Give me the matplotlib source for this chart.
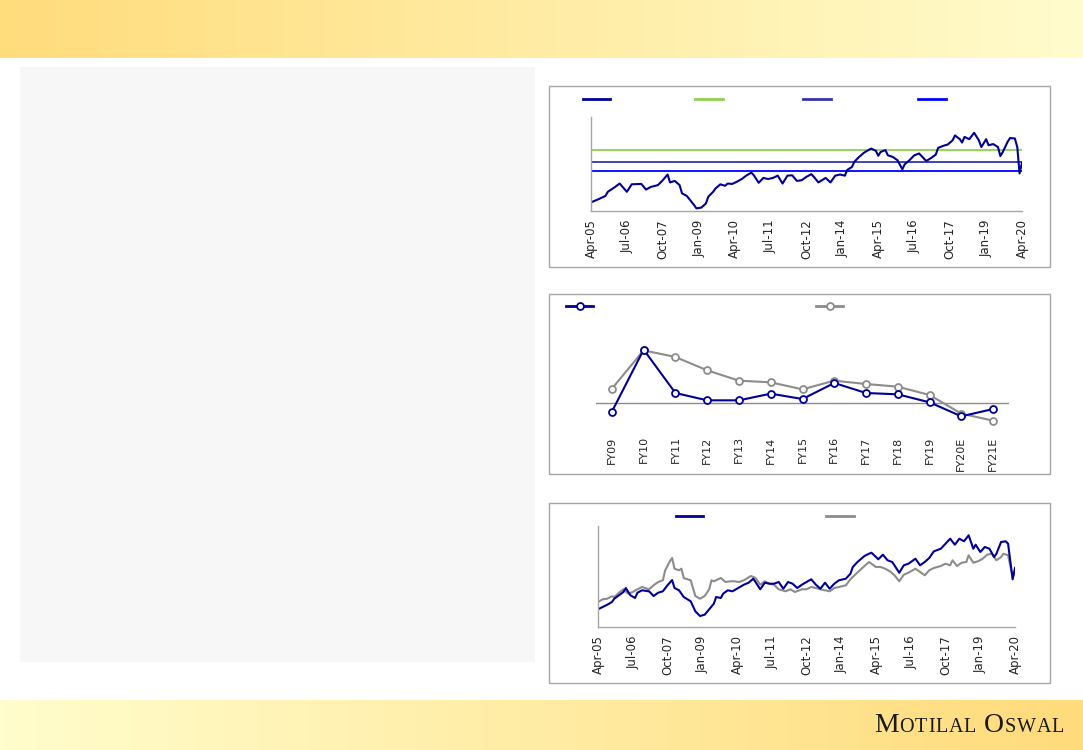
import numpy as np
import pandas as pd
import matplotlib
matplotlib.use("Agg")
import matplotlib.pyplot as plt
from matplotlib.lines import Line2D
from matplotlib.patches import Rectangle
from matplotlib.colors import LinearSegmentedColormap

# ---- data -----------------------------------------------------------------
START = pd.Timestamp("2005-04-01")

# chart 1: P/E band (months since Apr-05, value)
pe_month = [0, 3, 6, 7, 10, 12, 15, 17, 21, 23, 25, 28, 30, 32, 33, 35, 37, 38, 40, 43,
            44, 46, 48, 49, 51, 52, 54, 56, 57, 59, 61, 63, 65, 67, 68, 70, 72, 74, 76, 78,
            80, 82, 84, 86, 88, 90, 92, 93, 95, 98, 100, 102, 104, 106, 107, 109, 110, 112, 114, 115,
            117, 119, 120, 121, 123, 124, 126, 128, 130, 131, 133, 135, 137, 140, 142, 144, 145, 147, 149, 151,
            152, 154, 155, 156, 158, 160, 162, 163, 165, 166, 168, 170, 171, 172, 174, 175, 177, 178, 179, 180]
pe_value = [7.3, 8.1, 9.0, 10.1, 11.4, 12.3, 10.1, 12.1, 12.2, 10.7,
            11.4, 11.9, 13.2, 14.7, 12.6, 13.0, 11.9, 9.7, 9.0, 6.6,
            5.7, 5.9, 7.0, 8.8, 10.1, 11.0, 12.1, 11.7, 12.3, 12.2,
            12.8, 13.5, 14.5, 15.2, 14.5, 12.5, 13.8, 13.5, 13.8, 14.4,
            12.3, 14.4, 14.5, 13.0, 13.2, 14.1, 14.8, 14.1, 12.6, 13.8,
            12.6, 14.4, 14.7, 14.4, 15.9, 16.7, 18.1, 19.4, 20.5, 20.9,
            21.6, 21.0, 19.7, 20.7, 21.2, 19.8, 19.4, 18.5, 16.1, 17.4,
            18.5, 19.8, 20.3, 18.3, 19.1, 20.0, 21.8, 22.3, 22.7, 23.8,
            25.1, 24.1, 23.2, 24.7, 24.1, 25.8, 23.8, 22.0, 24.1, 22.5,
            22.8, 22.0, 19.6, 20.7, 23.4, 24.4, 24.3, 22.0, 15.0, 17.9]
pe_upper = 21.3
pe_avg = 18.0
pe_lower = 15.7

# chart 2: yearly growth, two series
fy_labels = ["FY09", "FY10", "FY11", "FY12", "FY13", "FY14", "FY15", "FY16",
             "FY17", "FY18", "FY19", "FY20E", "FY21E"]
growth_a = [-6.5, 40.0, 7.5, 2.0, 2.0, 7.0, 3.0, 15.0, 7.5, 6.5, 0.5, -10.0, -4.5]
growth_b = [10.75, 39.5, 34.5, 24.5, 16.75, 15.5, 10.25, 16.75, 14.25, 12.25, 6.0, -8.0, -13.25]

# chart 3: two index-like series
s1_month = [0, 2, 4, 6, 7, 9, 11, 12, 14, 16, 17, 19, 22, 24, 26, 28, 30, 32, 33, 35,
            37, 40, 42, 44, 46, 48, 50, 51, 53, 54, 56, 58, 60, 63, 65, 67, 68, 70, 72, 74,
            76, 78, 80, 82, 84, 86, 88, 90, 92, 94, 96, 98, 100, 102, 104, 107, 109, 110, 112, 115,
            117, 118, 120, 121, 123, 125, 127, 130, 132, 134, 137, 139, 141, 143, 145, 148, 150, 152, 154, 156,
            158, 160, 162, 163, 165, 167, 169, 171, 172, 174, 176, 177, 179, 180]
s1_value = [17.7, 20, 22.3, 25, 28.3, 31.7, 35, 39, 31.7, 29,
            34.3, 36.7, 35.7, 31, 34.3, 35.7, 41.7, 47, 39, 36.7,
            30, 25.7, 15.7, 11, 12.3, 17.7, 23.3, 30, 29, 33.3,
            36.7, 35.7, 38.3, 42.3, 44.3, 48.3, 45, 37.7, 44.3, 43.3,
            43.3, 45, 38.3, 45, 43.3, 39, 42.3, 45, 47.7, 42.3,
            38.3, 44.3, 38.3, 43.3, 46.7, 48.3, 53.3, 60, 65, 71,
            73.3, 74.3, 70, 67.7, 72.3, 66.7, 65, 54.3, 61.7, 63.3,
            68.3, 61.7, 65, 69, 75.7, 78.3, 83.3, 88.3, 82.3, 88.3,
            85.7, 91.7, 78.3, 82.3, 75, 80, 78.3, 70, 73.3, 85,
            85.7, 83.3, 47.7, 59]
s2_month = [0, 2, 4, 6, 7, 9, 11, 13, 15, 17, 19, 22, 24, 26, 28, 29, 31, 32, 33, 35,
            36, 37, 40, 42, 44, 46, 48, 49, 50, 53, 55, 57, 59, 61, 63, 66, 68, 70, 72, 74,
            76, 78, 81, 83, 85, 88, 90, 92, 94, 96, 100, 102, 104, 107, 109, 111, 113, 115, 117, 120,
            122, 124, 126, 128, 130, 132, 134, 137, 139, 141, 143, 145, 148, 150, 152, 153, 155, 157, 159, 160,
            162, 164, 166, 168, 170, 172, 174, 175, 177, 179, 180]
s2_value = [25, 27.7, 28.3, 30.7, 30, 34.3, 37.7, 33.3, 35, 37.7,
            40, 37.7, 41.7, 45, 46.7, 56.7, 65.7, 69, 58.3, 56.7,
            58.3, 49, 46.7, 31, 28.3, 31, 37.7, 46.7, 45.7, 49,
            45, 45.7, 45.7, 45, 46.7, 51, 49, 42.3, 45.7, 43.3,
            42.3, 37.7, 35.7, 37.7, 35, 37.7, 37.7, 40, 39, 37.7,
            35.7, 39, 40, 41.7, 47.7, 52.3, 56.7, 61, 65, 60,
            60, 58.3, 55.7, 51.7, 45.7, 52.3, 54.3, 58.3, 55, 51.7,
            56.7, 59, 61, 63.3, 61.7, 66.7, 61, 64.3, 65, 71.7,
            64.3, 65.7, 68.3, 72.3, 73.3, 66.7, 70, 73.3, 71.7, 50,
            55]

tick_dates = ["2005-04", "2006-07", "2007-10", "2009-01", "2010-04", "2011-07", "2012-10",
              "2014-01", "2015-04", "2016-07", "2017-10", "2019-01", "2020-04"]


def to_dates(months):
    return [START + pd.DateOffset(months=m) for m in months]


# ---- styling --------------------------------------------------------------
W, H = 1083, 750
NAVY = "#000099"
GREEN = "#92D050"
SLATE = "#3333B2"
BLUE = "#0000FF"
GREY = "#8C8C8C"
SPINE = "#A6A6A6"
TXT = "#262626"

fig = plt.figure(figsize=(W / 100, H / 100), dpi=100)
fig.patch.set_facecolor("white")


def px_axes(x0, y0, x1, y1, **kw):
    return fig.add_axes([x0 / W, 1 - y1 / H, (x1 - x0) / W, (y1 - y0) / H], **kw)


def gradient_band(y0, y1, c_left, c_right):
    ax = px_axes(0, y0, W, y1)
    cmap = LinearSegmentedColormap.from_list("g", [c_left, c_right])
    ax.imshow(np.linspace(0, 1, 256)[None, :], aspect="auto", cmap=cmap,
              extent=[0, 1, 0, 1])
    ax.axis("off")
    return ax


# header / footer bands
gradient_band(0, 58, "#FFDC7C", "#FFFCCC")
gradient_band(700, H, "#FFFDCC", "#FFDB7B")

# left grey panel (kept under the axes)
fig.add_artist(Rectangle((20 / W, 1 - 662 / H), 515 / W, 595 / H,
                         transform=fig.transFigure, fc="#F7F7F7", ec="none", zorder=-10))

# chart frames
for y0, y1 in [(86, 267), (294, 474), (503, 683)]:
    fig.add_artist(Rectangle((549 / W, 1 - y1 / H), 501 / W, (y1 - y0) / H,
                             transform=fig.transFigure, fc="white", ec=SPINE, lw=1.0,
                             zorder=-10))


def legend_line(x0, x1, y, color, marker=False):
    fig.add_artist(Line2D([x0 / W, x1 / W], [1 - y / H, 1 - y / H], color=color,
                          lw=2.0, transform=fig.transFigure))
    if marker:
        fig.add_artist(Line2D([(x0 + x1) / 2 / W], [1 - y / H], color=color, marker="o",
                              ms=5, mfc="white", mew=1.3, transform=fig.transFigure))


def date_axis(ax):
    ax.set_xlim(START, START + pd.DateOffset(months=180))
    ticks = [pd.Timestamp(t + "-01") for t in tick_dates]
    ax.set_xticks(ticks)
    ax.set_xticklabels([t.strftime("%b-%y") for t in ticks], rotation=90,
                       fontsize=8.5, color=TXT)
    ax.tick_params(axis="x", length=0, pad=6)
    ax.set_yticks([])
    for s in ["top", "right"]:
        ax.spines[s].set_visible(False)
    for s in ["left", "bottom"]:
        ax.spines[s].set_color(SPINE)
        ax.spines[s].set_linewidth(1.0)
    ax.patch.set_alpha(0)


# ---- chart 1 --------------------------------------------------------------
ax1 = px_axes(591, 117, 1022, 211)
ax1.axhline(pe_upper, color=GREEN, lw=1.3)
ax1.axhline(pe_avg, color=SLATE, lw=1.3)
ax1.axhline(pe_lower, color=BLUE, lw=1.3)
ax1.plot(to_dates(pe_month), pe_value, color=NAVY, lw=1.5)
ax1.set_ylim(5, 30)
date_axis(ax1)
legend_line(583, 610, 99, NAVY)
legend_line(695, 723, 99, GREEN)
legend_line(803, 831, 99, SLATE)
legend_line(918, 946, 99, BLUE)

# ---- chart 2 --------------------------------------------------------------
ax2 = px_axes(596, 316, 1009, 428)
x = np.arange(len(fy_labels))
ax2.axhline(0, color=GREY, lw=1.0)
ax2.plot(x, growth_b, color=GREY, lw=1.5, marker="o", ms=5, mfc="white", mew=1.3)
ax2.plot(x, growth_a, color=NAVY, lw=1.5, marker="o", ms=5, mfc="white", mew=1.3)
ax2.set_xlim(-0.5, len(fy_labels) - 0.5)
ax2.set_ylim(-18.75, 65.25)
ax2.set_xticks(x)
ax2.set_xticklabels(fy_labels, rotation=90, fontsize=8, color=TXT)
ax2.tick_params(axis="x", length=0, pad=6)
ax2.set_yticks([])
for s in ax2.spines.values():
    s.set_visible(False)
ax2.patch.set_alpha(0)
legend_line(566, 593, 306, NAVY, marker=True)
legend_line(816, 843, 306, GREY, marker=True)

# ---- chart 3 --------------------------------------------------------------
ax3 = px_axes(598, 526, 1015, 627)
ax3.plot(to_dates(s2_month), s2_value, color=GREY, lw=1.5)
ax3.plot(to_dates(s1_month), s1_value, color=NAVY, lw=1.5)
ax3.set_ylim(0, 101)
date_axis(ax3)
legend_line(676, 703, 516, NAVY)
legend_line(826, 854, 516, GREY)

# ---- brand mark (small caps, letter by letter with a little tracking) ----
fig.canvas.draw()
renderer = fig.canvas.get_renderer()
xpos = 874
for word in ["MOTILAL", "OSWAL"]:
    for i, ch in enumerate(word):
        size = 20 if i == 0 else 14.5
        t = fig.text(xpos / W, 1 - 732 / H, ch, fontsize=size, color="#1A1A1A",
                     family="Liberation Serif", ha="left", va="baseline")
        xpos += t.get_window_extent(renderer).width + 0.8
    xpos += 7

fig.savefig("out.png", dpi=100, facecolor="white")
